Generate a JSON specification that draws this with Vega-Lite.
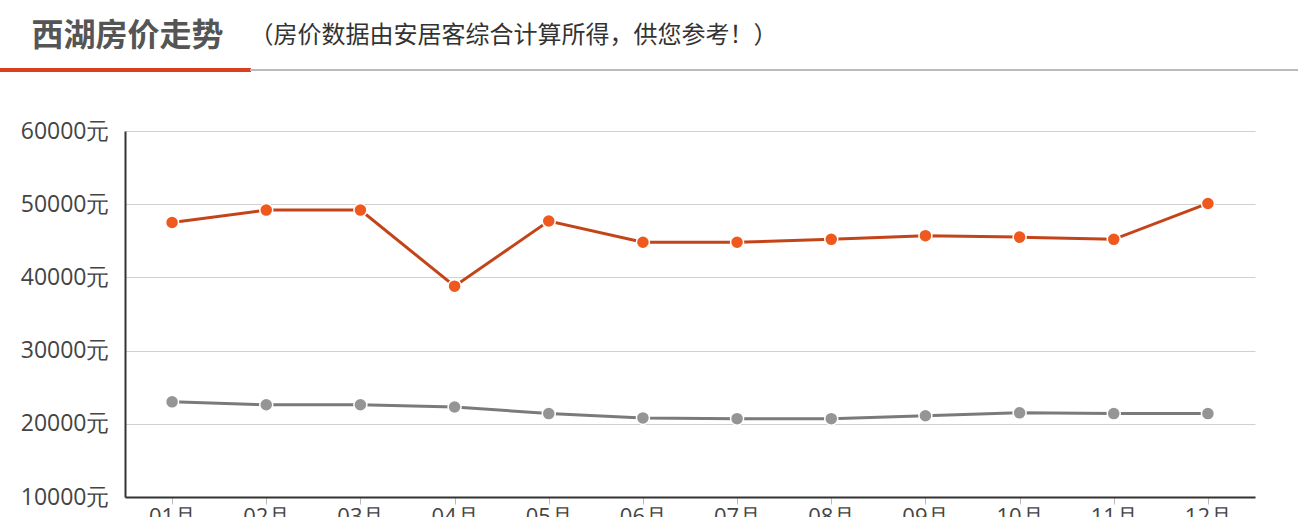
{
  "$schema": "https://vega.github.io/schema/vega-lite/v6.json",
  "width": 1130,
  "height": 366,
  "autosize": "none",
  "padding": {"left": 125, "top": 131, "right": 43, "bottom": 20},
  "background": "#ffffff",
  "config": {"view": {"stroke": null}},
  "data": {
    "values": [
      {"month": 1, "series": "西湖", "price": 47500},
      {"month": 2, "series": "西湖", "price": 49200},
      {"month": 3, "series": "西湖", "price": 49200},
      {"month": 4, "series": "西湖", "price": 38800},
      {"month": 5, "series": "西湖", "price": 47700},
      {"month": 6, "series": "西湖", "price": 44800},
      {"month": 7, "series": "西湖", "price": 44800},
      {"month": 8, "series": "西湖", "price": 45200},
      {"month": 9, "series": "西湖", "price": 45700},
      {"month": 10, "series": "西湖", "price": 45500},
      {"month": 11, "series": "西湖", "price": 45200},
      {"month": 12, "series": "西湖", "price": 50100},
      {"month": 1, "series": "参考", "price": 23000},
      {"month": 2, "series": "参考", "price": 22600},
      {"month": 3, "series": "参考", "price": 22600},
      {"month": 4, "series": "参考", "price": 22300},
      {"month": 5, "series": "参考", "price": 21400},
      {"month": 6, "series": "参考", "price": 20800},
      {"month": 7, "series": "参考", "price": 20700},
      {"month": 8, "series": "参考", "price": 20700},
      {"month": 9, "series": "参考", "price": 21100},
      {"month": 10, "series": "参考", "price": 21500},
      {"month": 11, "series": "参考", "price": 21400},
      {"month": 12, "series": "参考", "price": 21400}
    ]
  },
  "layer": [
    {
      "mark": {"type": "line", "strokeWidth": 3},
      "encoding": {
        "x": {
          "field": "month",
          "type": "quantitative",
          "scale": {"domain": [0.5, 12.5], "nice": false, "zero": false},
          "axis": {
            "title": "西湖房价走势",
            "titleAngle": 0,
            "titleX": -94,
            "titleY": -462,
            "titleAlign": "left",
            "titleBaseline": "middle",
            "titleFont": "Noto Sans CJK SC",
            "titleFontSize": 32,
            "titleFontWeight": "bold",
            "titleColor": "#555555",
            "values": [1, 2, 3, 4, 5, 6, 7, 8, 9, 10, 11, 12],
            "labelExpr": "(datum.value < 10 ? '0' : '') + datum.value + '月'",
            "grid": false,
            "domainColor": "#333333",
            "domainWidth": 2,
            "tickColor": "#bbbbbb",
            "tickSize": 7,
            "labelFont": "Open Sans",
            "labelFontSize": 22,
            "labelColor": "#444444",
            "labelPadding": 2
          }
        },
        "y": {
          "field": "price",
          "type": "quantitative",
          "scale": {"domain": [10000, 60000], "nice": false, "zero": false},
          "axis": {
            "title": "（房价数据由安居客综合计算所得，供您参考！）",
            "titleAngle": 0,
            "titleX": 124,
            "titleY": -96,
            "titleAlign": "left",
            "titleBaseline": "middle",
            "titleFont": "Noto Sans CJK SC",
            "titleFontSize": 24,
            "titleFontWeight": "normal",
            "titleColor": "#333333",
            "values": [10000, 20000, 30000, 40000, 50000, 60000],
            "labelExpr": "datum.value + '元'",
            "ticks": false,
            "gridColor": "#d0d0d0",
            "domainColor": "#333333",
            "domainWidth": 2,
            "labelFont": "Open Sans",
            "labelFontSize": 23,
            "labelColor": "#444444",
            "labelPadding": 16
          }
        },
        "detail": {"field": "series"},
        "stroke": {
          "field": "series",
          "type": "nominal",
          "scale": {"domain": ["西湖", "参考"], "range": ["#c44419", "#7a7a7a"]},
          "legend": null
        }
      }
    },
    {
      "mark": {"type": "point", "filled": true, "size": 170, "stroke": "#ffffff", "strokeWidth": 1.5, "opacity": 1},
      "encoding": {
        "x": {"field": "month", "type": "quantitative"},
        "y": {"field": "price", "type": "quantitative"},
        "fill": {
          "field": "series",
          "type": "nominal",
          "scale": {"domain": ["西湖", "参考"], "range": ["#f0591e", "#959595"]},
          "legend": null
        }
      }
    },
    {
      "mark": {"type": "rule", "color": "#d9401e", "strokeWidth": 3},
      "encoding": {
        "x": {"datum": -0.83},
        "x2": {"datum": 1.83},
        "y": {"datum": 68330}
      }
    },
    {
      "mark": {"type": "rule", "color": "#bbbbbb", "strokeWidth": 2},
      "encoding": {
        "x": {"datum": 1.83},
        "x2": {"datum": 12.96},
        "y": {"datum": 68330}
      }
    }
  ]
}
